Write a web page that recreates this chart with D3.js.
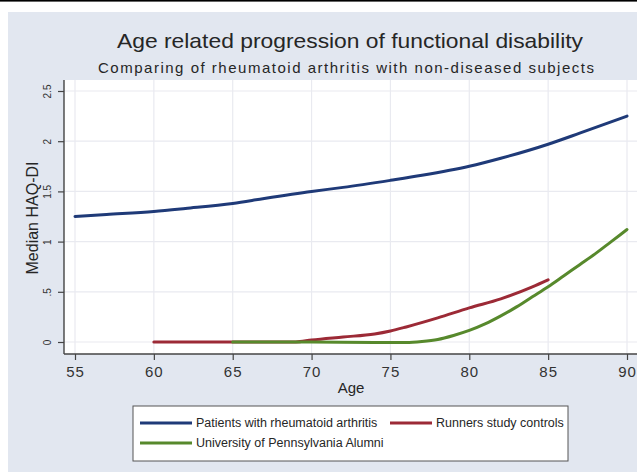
<!DOCTYPE html>
<html>
<head>
<meta charset="utf-8">
<script src="https://cdn.jsdelivr.net/npm/d3@7"></script>
<style>
  body { margin: 0; background: #fff; }
  text { font-family: "Liberation Sans", Arial, sans-serif; fill: #262626; }
</style>
</head>
<body>
<div id="chart"></div>
<script>
// data
var xTicks = [55, 60, 65, 70, 75, 80, 85, 90]
var yTicks = [0, 0.5, 1, 1.5, 2, 2.5]

var raAges = [55, 57, 60, 62, 65, 67, 70, 72, 75, 77, 80, 82, 85, 87, 90]
var raVals = [1.25, 1.27, 1.30, 1.33, 1.38, 1.43, 1.50, 1.54, 1.61, 1.66, 1.75, 1.83, 1.97, 2.08, 2.25]

var runAges = [60, 65, 69, 70, 72, 74, 75, 76, 78, 80, 82, 84, 85]
var runVals = [0, 0, 0, 0.02, 0.05, 0.08, 0.11, 0.15, 0.24, 0.34, 0.43, 0.55, 0.62]

var upAges = [65, 70, 74, 76, 77, 78, 79, 80, 81, 82, 83, 84, 85, 86, 87, 88, 89, 90]
var upVals = [0, 0, -0.005, -0.005, 0.005, 0.025, 0.065, 0.115, 0.18, 0.26, 0.35, 0.45, 0.55, 0.66, 0.77, 0.88, 1.0, 1.12]

var seriesNames = ["Patients with rheumatoid arthritis", "Runners study controls", "University of Pennsylvania Alumni"]
var seriesColors = ["#1f3a78", "#9c2a36", "#57892c"]

var W = 637, H = 472
var plot = { left: 64, right: 640, top: 80, bottom: 354 }

var svg = d3.select("#chart").append("svg")
  .attr("width", W)
  .attr("height", H)

// top rule and the grey-blue page background
svg.append("rect").attr("x", 0).attr("y", 0).attr("width", W).attr("height", 1.6).style("fill", "#000")
svg.append("rect").attr("x", 8).attr("y", 12).attr("width", W - 8).attr("height", H - 12).style("fill", "#e2e7f0")

// titles
svg.append("text")
  .attr("x", 350).attr("y", 48)
  .attr("text-anchor", "middle")
  .attr("textLength", 466).attr("lengthAdjust", "spacingAndGlyphs")
  .style("font-size", "21px")
  .text("Age related progression of functional disability")
svg.append("text")
  .attr("x", 346).attr("y", 73)
  .attr("text-anchor", "middle")
  .attr("textLength", 496).attr("lengthAdjust", "spacing")
  .style("font-size", "15px")
  .text("Comparing of rheumatoid arthritis with non-diseased subjects")

// plot region
svg.append("rect")
  .attr("x", plot.left).attr("y", plot.top)
  .attr("width", plot.right - plot.left).attr("height", plot.bottom - plot.top)
  .style("fill", "#fff")

var x = d3.scaleLinear().domain([55, 90]).range([75, 627])
var y = d3.scaleLinear().domain([0, 2.5]).range([342, 91])

// grid
svg.append("g").selectAll("line")
  .data(xTicks).enter().append("line")
  .attr("x1", function (d) { return x(d) }).attr("x2", function (d) { return x(d) })
  .attr("y1", plot.top).attr("y2", plot.bottom)
  .style("stroke", "#e9eaf0").style("stroke-width", 1.2)
svg.append("g").selectAll("line")
  .data(yTicks).enter().append("line")
  .attr("x1", plot.left).attr("x2", plot.right)
  .attr("y1", function (d) { return y(d) }).attr("y2", function (d) { return y(d) })
  .style("stroke", "#e9eaf0").style("stroke-width", 1.2)

// axes
var yAxis = svg.append("g")
  .attr("transform", "translate(" + plot.left + ",0)")
  .call(d3.axisLeft(y).tickValues(yTicks).tickSize(6).tickPadding(11)
    .tickFormat(function (d) { return d === 0 ? "0" : String(d).replace(/^0/, "") }))
yAxis.select(".domain").remove()
yAxis.selectAll(".tick line").attr("stroke", "#444").attr("stroke-width", 1.2)
yAxis.selectAll(".tick text")
  .attr("transform", "rotate(-90)")
  .attr("x", 0).attr("y", -17)
  .attr("dy", "0.35em")
  .style("text-anchor", "middle")
  .style("font-size", "10px")
  .style("font-family", "Liberation Sans, Arial, sans-serif")
  .style("fill", "#333")

var xAxis = svg.append("g")
  .attr("transform", "translate(0," + plot.bottom + ")")
  .call(d3.axisBottom(x).tickValues(xTicks).tickSize(6).tickPadding(6))
xAxis.select(".domain").remove()
xAxis.selectAll(".tick line").attr("stroke", "#444").attr("stroke-width", 1.2)
xAxis.selectAll(".tick text")
  .style("font-size", "15px")
  .style("letter-spacing", "1px")
  .style("font-family", "Liberation Sans, Arial, sans-serif")
  .style("fill", "#333")

svg.append("line")
  .attr("x1", plot.left).attr("x2", plot.left)
  .attr("y1", plot.top).attr("y2", plot.bottom)
  .style("stroke", "#444").style("stroke-width", 1.4)
svg.append("line")
  .attr("x1", plot.left).attr("x2", plot.right)
  .attr("y1", plot.bottom).attr("y2", plot.bottom)
  .style("stroke", "#444").style("stroke-width", 1.4)

// axis titles
svg.append("text")
  .attr("transform", "translate(38,218) rotate(-90)")
  .attr("text-anchor", "middle")
  .style("font-size", "16px")
  .text("Median HAQ-DI")
svg.append("text")
  .attr("x", 351).attr("y", 393)
  .attr("text-anchor", "middle")
  .style("font-size", "15px")
  .text("Age")

// lines
var line = d3.line()
  .x(function (d) { return x(d[0]) })
  .y(function (d) { return y(d[1]) })
  .curve(d3.curveMonotoneX)

var allSeries = [
  d3.zip(raAges, raVals),
  d3.zip(runAges, runVals),
  d3.zip(upAges, upVals)
]
svg.append("g").selectAll("path")
  .data(allSeries).enter().append("path")
  .attr("d", line)
  .style("fill", "none")
  .style("stroke", function (d, i) { return seriesColors[i] })
  .style("stroke-width", 3)
  .style("stroke-linecap", "round")

// legend
var legend = svg.append("g")
legend.append("rect")
  .attr("x", 133).attr("y", 406).attr("width", 435).attr("height", 55)
  .style("fill", "#fff").style("stroke", "#555").style("stroke-width", 1)

var legendPos = [[140, 423], [390, 423], [140, 443]]
var legendLen = [52, 42, 52]
legend.selectAll("line.key")
  .data(seriesNames).enter().append("line")
  .attr("class", "key")
  .attr("x1", function (d, i) { return legendPos[i][0] })
  .attr("x2", function (d, i) { return legendPos[i][0] + legendLen[i] })
  .attr("y1", function (d, i) { return legendPos[i][1] })
  .attr("y2", function (d, i) { return legendPos[i][1] })
  .style("stroke", function (d, i) { return seriesColors[i] })
  .style("stroke-width", 3)
legend.selectAll("text.key")
  .data(seriesNames).enter().append("text")
  .attr("class", "key")
  .attr("x", function (d, i) { return legendPos[i][0] + legendLen[i] + 4 })
  .attr("y", function (d, i) { return legendPos[i][1] })
  .attr("dy", "0.35em")
  .style("font-size", "12.5px")
  .text(function (d) { return d })
</script>
</body>
</html>
